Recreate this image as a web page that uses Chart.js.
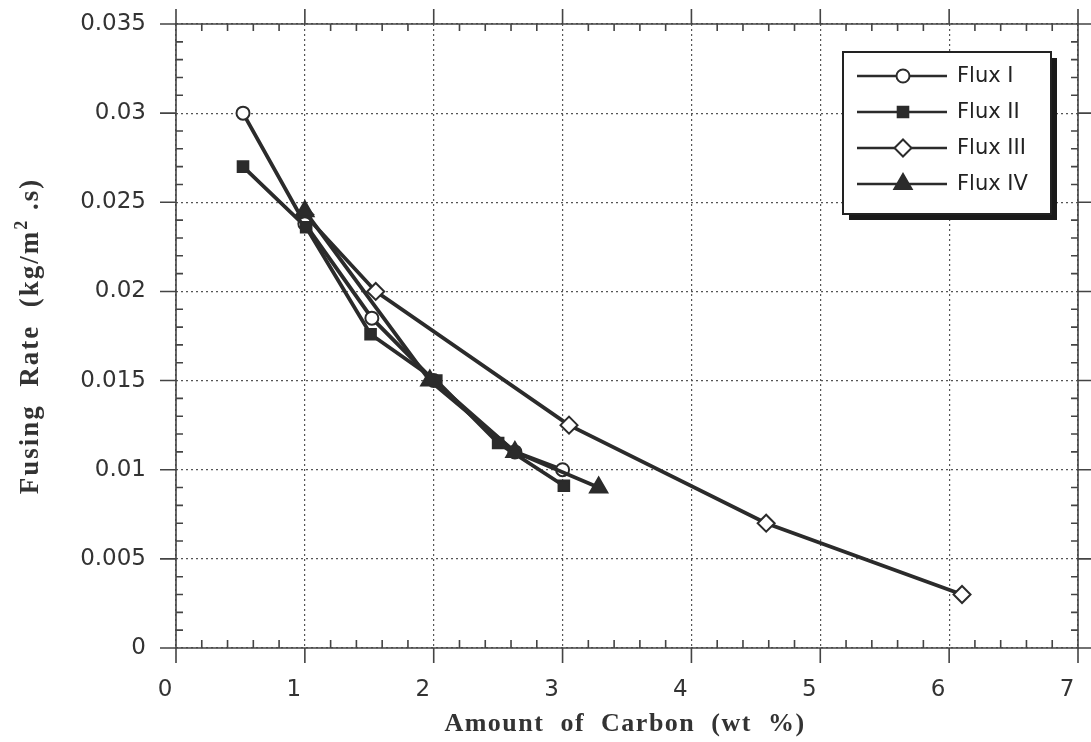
<!DOCTYPE html>
<html>
<head>
<meta charset="utf-8">
<script src="https://cdn.jsdelivr.net/npm/chart.js@4"></script>
<style>
  html, body { margin: 0; padding: 0; background: #fff; }
  #wrap { width: 1091px; height: 742px; }
</style>
</head>
<body>
<div id="wrap"><canvas id="chart" width="1091" height="742"></canvas></div>
<script>
// values (x = wt % carbon, y = kg/m2.s)
const flux1X = [0.52, 1.0, 1.52, 2.0, 2.63, 3.0];
const flux1Y = [0.030, 0.0238, 0.0185, 0.015, 0.011, 0.010];
const flux2X = [0.52, 1.01, 1.51, 2.02, 2.5, 3.01];
const flux2Y = [0.027, 0.0236, 0.0176, 0.015, 0.0115, 0.0091];
const flux3X = [1.0, 1.55, 3.05, 4.58, 6.1];
const flux3Y = [0.0243, 0.020, 0.0125, 0.007, 0.003];
const flux4X = [1.0, 1.97, 2.63, 3.28];
const flux4Y = [0.0245, 0.015, 0.011, 0.009];

const seriesNames = ['Flux I', 'Flux II', 'Flux III', 'Flux IV'];
const xTicks = [0, 1, 2, 3, 4, 5, 6, 7];
const yTicks = [0, 0.005, 0.01, 0.015, 0.02, 0.025, 0.03, 0.035];

const ink = '#2b2b2b';
const sans = '"DejaVu Sans", Verdana, sans-serif';
const serif = '"Liberation Serif", "Times New Roman", serif';

function pts(xs, ys) {
    return xs.map((x, i) => ({ x: x, y: ys[i] }));
}

function makeSet(label, data, style, fill, radius, order) {
    return {
        label: label,
        data: data,
        order: order,
        showLine: true,
        borderColor: ink,
        borderWidth: 3.8,
        pointStyle: style,
        pointRadius: radius,
        pointBackgroundColor: fill,
        pointBorderColor: ink,
        pointBorderWidth: 2,
        pointHoverRadius: radius
    };
}

// frame, minor ticks and outer major ticks
const axisTicks = {
    id: 'axisTicks',
    afterDatasetsDraw(chart) {
        const ctx = chart.ctx;
        const a = chart.chartArea;
        const xs = chart.scales.x, ys = chart.scales.y;
        ctx.save();
        ctx.strokeStyle = '#444';
        ctx.lineWidth = 1.6;
        ctx.beginPath();
        ctx.rect(a.left, a.top, a.right - a.left, a.bottom - a.top);
        ctx.stroke();
        ctx.beginPath();
        for (let i = 0; i <= 35; i++) {
            const px = xs.getPixelForValue(i * 0.2);
            if (i % 5 === 0) {
                ctx.moveTo(px, a.bottom); ctx.lineTo(px, a.bottom + 15);
                ctx.moveTo(px, a.top); ctx.lineTo(px, a.top - 15);
            } else {
                ctx.moveTo(px, a.bottom); ctx.lineTo(px, a.bottom - 8);
                ctx.moveTo(px, a.top); ctx.lineTo(px, a.top + 7);
            }
        }
        for (let i = 0; i <= 35; i++) {
            const py = ys.getPixelForValue(i * 0.001);
            if (i % 5 === 0) {
                ctx.moveTo(a.left, py); ctx.lineTo(a.left - 16, py);
                ctx.moveTo(a.right, py); ctx.lineTo(a.right + 13, py);
            } else {
                ctx.moveTo(a.left, py); ctx.lineTo(a.left + 7, py);
                ctx.moveTo(a.right, py); ctx.lineTo(a.right - 7, py);
            }
        }
        ctx.stroke();
        ctx.restore();
    }
};

// axis titles, drawn by hand for the spacing and the superscript
const axisTitles = {
    id: 'axisTitles',
    afterDraw(chart) {
        const ctx = chart.ctx;
        const a = chart.chartArea;
        ctx.save();
        ctx.fillStyle = '#333';
        ctx.letterSpacing = '1.5px';
        ctx.textBaseline = 'alphabetic';
        ctx.font = 'bold 26px ' + serif;
        ctx.textAlign = 'center';
        ctx.fillText('Amount  of  Carbon  (wt  %)', (a.left + a.right) / 2 - 2, 731);

        ctx.translate(38, 336);
        ctx.rotate(-Math.PI / 2);
        ctx.letterSpacing = '2px';
        const p1 = 'Fusing  Rate  (kg/m';
        const p2 = '2';
        const p3 = ' .s)';
        ctx.font = 'bold 27px ' + serif;
        const w1 = ctx.measureText(p1).width;
        const w3 = ctx.measureText(p3).width;
        ctx.font = 'bold 18px ' + serif;
        const w2 = ctx.measureText(p2).width;
        let x = -(w1 + w2 + w3) / 2;
        ctx.textAlign = 'left';
        ctx.font = 'bold 27px ' + serif;
        ctx.fillText(p1, x, 0);
        x += w1;
        ctx.font = 'bold 18px ' + serif;
        ctx.fillText(p2, x, -11);
        x += w2;
        ctx.font = 'bold 27px ' + serif;
        ctx.fillText(p3, x, 0);
        ctx.restore();
    }
};

// boxed legend with drop shadow
const boxLegend = {
    id: 'boxLegend',
    afterDraw(chart) {
        const ctx = chart.ctx;
        const bx = 843, by = 52, bw = 208, bh = 162;
        ctx.save();
        ctx.fillStyle = '#1a1a1a';
        ctx.fillRect(bx + 6, by + 6, bw, bh);
        ctx.fillStyle = '#fff';
        ctx.fillRect(bx, by, bw, bh);
        ctx.strokeStyle = '#222';
        ctx.lineWidth = 2;
        ctx.strokeRect(bx, by, bw, bh);
        chart.data.datasets.forEach((ds, i) => {
            const y = by + 24 + i * 36;
            ctx.strokeStyle = ink;
            ctx.lineWidth = 2.5;
            ctx.beginPath();
            ctx.moveTo(bx + 14, y);
            ctx.lineTo(bx + 104, y);
            ctx.stroke();
            ctx.fillStyle = ds.pointBackgroundColor;
            ctx.strokeStyle = ink;
            ctx.lineWidth = 2;
            Chart.helpers.drawPoint(ctx, {
                pointStyle: ds.pointStyle,
                radius: ds.pointRadius,
                borderWidth: 2
            }, bx + 60, y);
            ctx.fillStyle = '#222';
            ctx.font = '21px ' + sans;
            ctx.textBaseline = 'middle';
            ctx.textAlign = 'left';
            ctx.fillText(ds.label, bx + 114, y + 1);
        });
        ctx.restore();
    }
};

new Chart(document.getElementById('chart'), {
    type: 'scatter',
    data: {
        datasets: [
            makeSet(seriesNames[0], pts(flux1X, flux1Y), 'circle', '#fff', 6.5, 2),
            makeSet(seriesNames[1], pts(flux2X, flux2Y), 'rect', ink, 7.5, 1),
            makeSet(seriesNames[2], pts(flux3X, flux3Y), 'rectRot', '#fff', 8.5, 3),
            makeSet(seriesNames[3], pts(flux4X, flux4Y), 'triangle', ink, 10, 0)
        ]
    },
    options: {
        responsive: false,
        animation: false,
        events: [],
        layout: { padding: { left: 0, top: 24, right: 13, bottom: 0 } },
        plugins: {
            legend: { display: false },
            tooltip: { enabled: false }
        },
        scales: {
            x: {
                type: 'linear',
                min: 0,
                max: 7,
                afterBuildTicks: s => { s.ticks = xTicks.map(v => ({ value: v })); },
                afterFit: s => { s.height = 94; s.paddingLeft = 0; s.paddingRight = 0; },
                grid: { color: '#555', lineWidth: 1.2, drawTicks: false },
                border: { display: false, dash: [2, 3] },
                ticks: {
                    padding: 28,
                    labelOffset: -11,
                    color: '#333',
                    font: { family: sans, size: 23 },
                    callback: v => String(v)
                }
            },
            y: {
                type: 'linear',
                min: 0,
                max: 0.035,
                afterBuildTicks: s => { s.ticks = yTicks.map(v => ({ value: v })); },
                afterFit: s => { s.width = 176; s.paddingTop = 0; s.paddingBottom = 0; },
                grid: { color: '#555', lineWidth: 1.2, drawTicks: false },
                border: { display: false, dash: [2, 3] },
                ticks: {
                    padding: 30,
                    color: '#333',
                    font: { family: sans, size: 23 },
                    callback: v => String(parseFloat(v.toFixed(3)))
                }
            }
        }
    },
    plugins: [axisTicks, axisTitles, boxLegend]
});
</script>
</body>
</html>
